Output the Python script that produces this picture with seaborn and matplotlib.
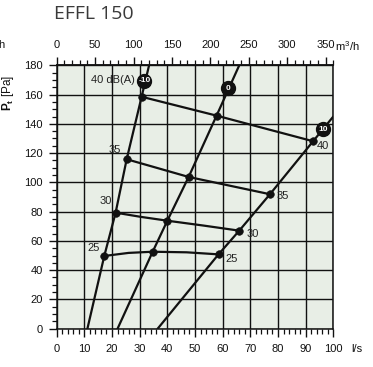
import numpy as np
import pandas as pd
import matplotlib
matplotlib.use("Agg")
import matplotlib.pyplot as plt
from matplotlib.ticker import MultipleLocator
import seaborn as sns

# --- data (l/s, Pa) ---
# system curves (setting -10 / 0 / 10)
sys_names = ["-10", "0", "10"]
sys_flow = [
    [11.1, 17.2, 21.3, 25.3, 30.7, 33.4],
    [22.0, 34.7, 40.0, 47.7, 57.8, 66.0],
    [36.5, 58.5, 66.0, 77.1, 92.7, 100.0],
]
sys_pa = [
    [0, 49.7, 79.3, 115.8, 158.5, 180],
    [0, 52.6, 73.8, 103.7, 145.6, 180],
    [0, 50.8, 67.0, 91.9, 128.1, 145],
]
badge_flow = [31.7, 61.8, 96.4]
badge_pa = [169.5, 164.3, 136.3]

# sound level lines dB(A)
db_levels = [25, 30, 35, 40]
db_flow = [
    [17.2, 26.0, 34.7, 47.0, 58.5],
    [21.3, 30.5, 40.0, 53.0, 66.0],
    [25.3, 47.7, 77.1],
    [30.7, 57.8, 92.7],
]
db_pa = [
    [49.7, 51.8, 52.6, 52.2, 50.8],
    [79.3, 76.4, 73.8, 70.5, 67.0],
    [115.8, 103.7, 91.9],
    [158.5, 145.6, 128.1],
]
left_labels = ["25", "30", "35", "40 dB(A)"]
right_labels = ["25", "30", "35", "40"]

sys_df = pd.concat([pd.DataFrame({"flow": f, "pa": p, "curve": n})
                    for n, f, p in zip(sys_names, sys_flow, sys_pa)], ignore_index=True)
db_df = pd.concat([pd.DataFrame({"flow": f, "pa": p, "level": lv})
                   for lv, f, p in zip(db_levels, db_flow, db_pa)], ignore_index=True)
dots = pd.concat([pd.DataFrame({"flow": f[1:-1], "pa": p[1:-1]})
                  for f, p in zip(sys_flow, sys_pa)], ignore_index=True)

sns.set_style("ticks")
plt.rcParams['font.family'] = ['Liberation Sans', 'DejaVu Sans']
plt.rcParams['mathtext.fontset'] = 'custom'
plt.rcParams['mathtext.rm'] = 'Liberation Sans'
plt.rcParams['mathtext.bf'] = 'Liberation Sans:bold'

W, H = 373, 367
fig = plt.figure(figsize=(W / 100, H / 100), dpi=100)
ax = fig.add_axes([56.7 / W, 1 - 328.7 / H, (333.3 - 56.7) / W, (328.7 - 65.3) / H])
ax.set_facecolor("#e8eee6")

ink = "#111111"
sns.lineplot(data=sys_df, x="flow", y="pa", units="curve", estimator=None, sort=False,
             color=ink, lw=1.6, ax=ax, zorder=3)
sns.lineplot(data=db_df, x="flow", y="pa", units="level", estimator=None, sort=False,
             color=ink, lw=1.6, ax=ax, zorder=3)
sns.scatterplot(data=dots, x="flow", y="pa", color=ink, s=30, edgecolor=ink, ax=ax, zorder=4)

# setting badges
ax.scatter(badge_flow, badge_pa, s=100, color=ink, zorder=5)
for n, x, y in zip(sys_names, badge_flow, badge_pa):
    ax.text(x, y, n, color="white", fontsize=6, fontweight="bold",
            ha="center", va="center", zorder=6)

# dB labels
left_off = [(-11, 8), (-10, 12), (-12, 9), (-7, 17)]
right_off = [(13, -5), (13, -3), (13, -2), (10, -5)]
for i in range(4):
    xs, ys = db_flow[i], db_pa[i]
    dx, dy = left_off[i]
    ax.annotate(left_labels[i], (xs[0], ys[0]), xytext=(dx, dy), textcoords="offset pixels",
                ha="right" if i == 3 else "center", va="center", fontsize=8, color="#222222")
    dx, dy = right_off[i]
    ax.annotate(right_labels[i], (xs[-1], ys[-1]), xytext=(dx, dy), textcoords="offset pixels",
                ha="center", va="center", fontsize=8, color="#222222")

ax.set_xlim(0, 100)
ax.set_ylim(0, 180)
ax.xaxis.set_major_locator(MultipleLocator(10))
ax.xaxis.set_minor_locator(MultipleLocator(2))
ax.yaxis.set_major_locator(MultipleLocator(20))
ax.yaxis.set_minor_locator(MultipleLocator(5))
ax.grid(True, which="major", color=ink, lw=1.0, zorder=1)
ax.set_axisbelow(True)
ax.set_xlabel("")
ax.set_ylabel("")
for s in ax.spines.values():
    s.set_color(ink)
    s.set_linewidth(1.1)
ax.tick_params(which="major", direction="out", length=6, width=1.0, labelsize=8,
               colors=ink, pad=4)
ax.tick_params(which="minor", direction="out", length=3.5, width=0.9, colors=ink)
ax.tick_params(axis="x", pad=5)

top = ax.secondary_xaxis("top", functions=(lambda q: q * 3.6, lambda m: m / 3.6))
top.xaxis.set_major_locator(MultipleLocator(50))
top.xaxis.set_minor_locator(MultipleLocator(10))
top.set_xticks(np.arange(0, 351, 50))
top.spines["top"].set_linewidth(1.1)
top.tick_params(which="major", direction="out", length=6, width=1.0, labelsize=8,
                colors=ink, pad=5)
top.tick_params(which="minor", direction="out", length=3.5, width=0.9, colors=ink)

# units, title
fig.text(335 / W, 1 - 46 / H, "m$^3$/h", fontsize=8, ha="left", va="center", color=ink)
fig.text(351 / W, 1 - 349 / H, "l/s", fontsize=8, ha="left", va="center", color=ink)
fig.text(8 / W, 1 - 93 / H, r"$\mathbf{P}_\mathbf{t}$ [Pa]", fontsize=8.5, rotation=90,
         ha="center", va="center", color=ink)
fig.text(-2 / W, 1 - 45 / H, "h", fontsize=8, ha="left", va="center", color=ink)
fig.text(54 / W, 1 - 14 / H, "EFFL 150", fontsize=14, ha="left", va="center",
         color="#3a3a3a", family="Open Sans")

fig.savefig("out.png", dpi=100)
